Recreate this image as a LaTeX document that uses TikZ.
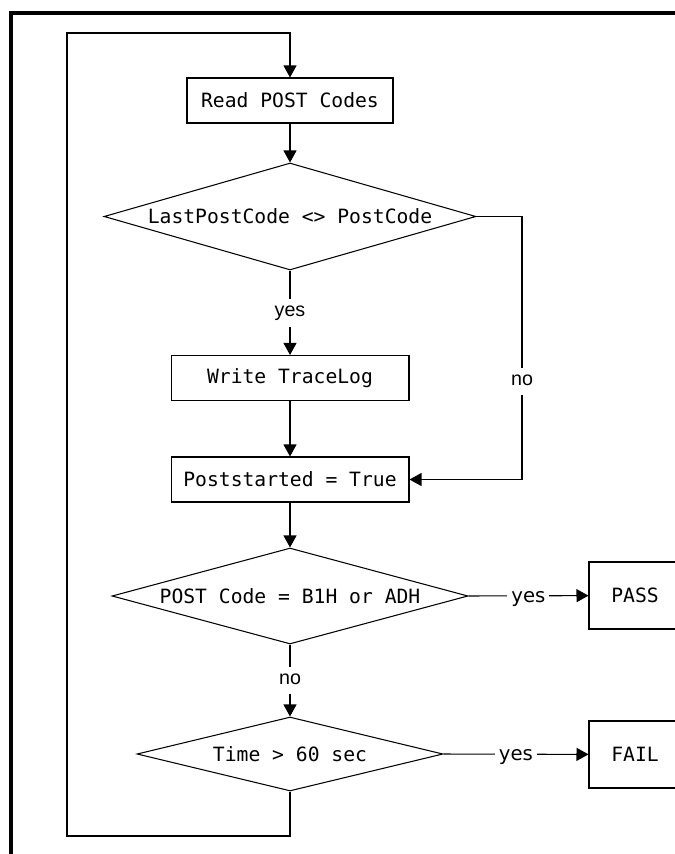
\documentclass[tikz,border=0pt]{standalone}
\usepackage{fontspec}
\setmonofont{DejaVu Sans Mono}
\newfontfamily\lablfont{Liberation Sans}
\newfontfamily\yesfont{DejaVu Sans}
\usetikzlibrary{arrows.meta,shapes.geometric}

\tikzset{
  stepbox/.style={draw,line width=0.6pt,inner sep=0pt,font=\ttfamily\fontsize{11.2}{13}\selectfont},
  decision/.style={draw,diamond,line width=0.6pt,inner sep=0pt,font=\ttfamily\fontsize{11.2}{13}\selectfont},
  arr/.style={-{Triangle[length=2.4mm,width=2.6mm]},line width=0.6pt},
  vlab/.style={fill=white,inner xsep=0.08cm,inner ysep=0.2cm,text height=1ex,text depth=0pt,font=\lablfont\fontsize{11.2}{13}\selectfont},
  hlab/.style={fill=white,inner xsep=0.08cm,inner ysep=0.1cm,text height=1ex,text depth=0pt,yshift=-0.05cm,font=\yesfont\fontsize{11.2}{13}\selectfont}
}

\begin{document}
\begin{tikzpicture}[x=0.02cm,y=-0.02cm]
  \useasboundingbox (0,0) rectangle (675,854);
  % frame (cut by the page)
  \draw[line width=2.3pt] (11,13) rectangle (1000,1000);
  % ---------- boxes ----------
  \node[stepbox,minimum width=4.12cm,minimum height=0.9cm] (read) at (290,100.5) {Read POST Codes};
  \node[decision,aspect=3.48,minimum width=7.44cm,minimum height=2.14cm] (d1) at (290,216.5) {LastPostCode <> PostCode};
  \node[stepbox,minimum width=4.76cm,minimum height=0.9cm] (write) at (290,378) {Write TraceLog};
  \node[stepbox,minimum width=4.76cm,minimum height=0.9cm] (post) at (290,479.5) {Poststarted = True};
  \node[decision,aspect=3.7,minimum width=7.12cm,minimum height=1.92cm] (d2) at (290,596) {POST Code = B1H or ADH};
  \node[stepbox,minimum width=1.84cm,minimum height=1.34cm] (pass) at (635,595.5) {PASS};
  \node[decision,aspect=4.13,minimum width=6.12cm,minimum height=1.48cm] (d3) at (290,754) {Time > 60 sec};
  \node[stepbox,minimum width=1.84cm,minimum height=1.34cm] (fail) at (635,754.5) {FAIL};
  % ---------- bends ----------
  \coordinate (nobend) at (522,479.5);
  \coordinate (loopbl) at (67,836);
  \coordinate (looptl) at (67,33);
  % ---------- connectors ----------
  \draw[arr] (read) -- (d1);
  \draw[arr] (d1) -- node[vlab]{yes} (write);
  \draw[arr] (write) -- (post);
  \draw[arr] (d1.east) -| node[vlab,pos=0.814]{no} (nobend) -- (post.east);
  \draw[arr] (post) -- (d2);
  \draw[arr] (d2.east) -- node[hlab]{yes} (pass);
  \draw[arr] (d2) -- node[vlab]{no} (d3);
  \draw[arr] (d3.east) -- node[hlab]{yes} (fail);
  \draw[arr] (d3.south) |- (loopbl) -- (looptl) -| (read.north);
\end{tikzpicture}
\end{document}
